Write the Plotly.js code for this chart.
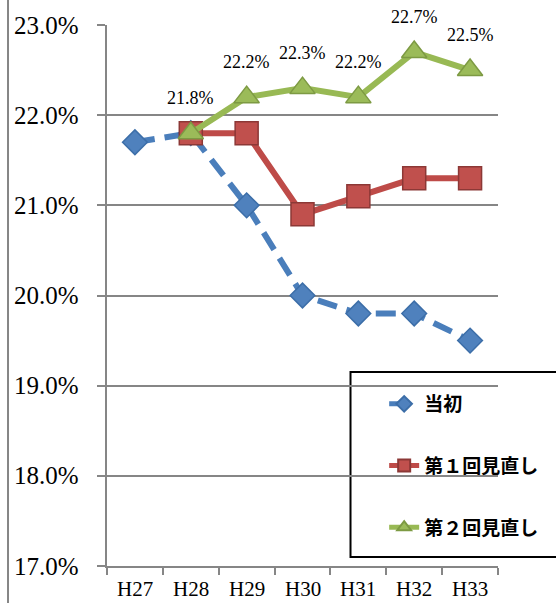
<!DOCTYPE html>
<html>
<head>
<meta charset="utf-8">
<script src="https://cdn.plot.ly/plotly-3.0.1.min.js"></script>
<style>html,body{margin:0;padding:0;background:#fff;}</style>
</head>
<body>
<div id="chart" style="width:556px;height:603px;"></div>
<script>
const categories = ['H27','H28','H29','H30','H31','H32','H33'];
const seriesNames = ['当初','第１回見直し','第２回見直し'];
const initialPlan = [21.7, 21.8, 21.0, 20.0, 19.8, 19.8, 19.5];
const review1 = [null, 21.8, 21.8, 20.9, 21.1, 21.3, 21.3];
const review2 = [null, 21.8, 22.2, 22.3, 22.2, 22.7, 22.5];
const yTicks = [17, 18, 19, 20, 21, 22, 23];
const yTickLabels = yTicks.map(v => v.toFixed(1) + '%');

const L = 107, R = 54, T = 25, B = 37, W = 556, H = 603;
const pw = W - L - R, ph = H - T - B;
const px = x => (x - L) / pw;
const py = y => (H - B - y) / ph;

const serif = 'Liberation Serif';

const traces = [
  {
    x: categories, y: initialPlan, name: seriesNames[0], type: 'scatter', mode: 'lines+markers',
    line: {color: '#4A7EBB', width: 6, dash: '20px,10px'},
    marker: {symbol: 'diamond', size: 19, color: '#4F81BD', line: {color: '#3C6EA8', width: 1.5}},
    legendgroup: 'a'
  },
  {
    x: categories, y: review1, name: seriesNames[1], type: 'scatter', mode: 'lines+markers',
    line: {color: '#BE4B48', width: 6},
    marker: {symbol: 'square', size: 23, color: '#C0504D', line: {color: '#8C3836', width: 1.5}},
    legendgroup: 'b'
  },
  {
    x: categories, y: review2, name: seriesNames[2], type: 'scatter', mode: 'lines+markers',
    line: {color: '#98B954', width: 6},
    marker: {symbol: 'triangle-up', size: 22, color: '#9BBB59', line: {color: '#7D9A43', width: 1.5}},
    legendgroup: 'c'
  }
];

const annotations = [];
// data labels for the second review series
categories.forEach((c, i) => {
  if (review2[i] !== null) {
    annotations.push({
      x: c, y: review2[i], xref: 'x', yref: 'y', text: review2[i].toFixed(1) + '%',
      showarrow: false, yshift: 35, font: {family: serif, size: 18, color: '#000'}
    });
  }
});
// y tick labels (serif) placed at tick values
yTicks.forEach((v, i) => {
  annotations.push({
    x: px(80), y: v, xref: 'paper', yref: 'y', text: yTickLabels[i],
    showarrow: false, xanchor: 'right', yanchor: 'middle', borderpad: 0,
    font: {family: serif, size: 25, color: '#000'}
  });
});
// x tick labels (serif) placed at categories
categories.forEach(c => {
  annotations.push({
    x: c, y: py(602), xref: 'x', yref: 'paper', text: c,
    showarrow: false, xanchor: 'center', yanchor: 'bottom', borderpad: 0,
    font: {family: serif, size: 21, color: '#000'}
  });
});

const layout = {
  width: W, height: H,
  font: {family: serif, color: '#000', size: 18},
  margin: {l: L, r: R, t: T, b: B, pad: 0},
  paper_bgcolor: '#fff', plot_bgcolor: '#fff',
  showlegend: true,
  legend: {
    x: px(387), y: py(385), xanchor: 'left', yanchor: 'top',
    bgcolor: 'rgba(0,0,0,0)', borderwidth: 0,
    font: {family: 'Noto Sans CJK JP', size: 19, color: '#000', weight: 'bold'},
    tracegroupgap: 34, itemsizing: 'constant', traceorder: 'grouped'
  },
  xaxis: {
    type: 'category', range: [-0.5, 6.5], fixedrange: true,
    showgrid: false, showline: true, linecolor: '#868686', linewidth: 2,
    ticks: 'outside', tickson: 'boundaries', ticklen: 7, tickwidth: 2, tickcolor: '#868686',
    showticklabels: false, zeroline: false
  },
  yaxis: {
    range: [17, 23], tickvals: yTicks, fixedrange: true,
    showgrid: true, gridcolor: '#868686', gridwidth: 2,
    showline: true, linecolor: '#868686', linewidth: 2,
    ticks: 'outside', ticklen: 8, tickwidth: 2, tickcolor: '#868686',
    showticklabels: false, zeroline: false
  },
  annotations: annotations,
  shapes: [
    {type: 'line', xref: 'paper', yref: 'paper', x0: px(7), x1: px(7), y0: py(H + 2), y1: py(-2),
     line: {color: '#868686', width: 2}},
    {type: 'rect', xref: 'paper', yref: 'paper', x0: px(353), x1: px(562), y0: py(557), y1: py(372),
     line: {color: '#000', width: 2}, fillcolor: '#fff', layer: 'between'}
  ]
};

Plotly.newPlot('chart', traces, layout, {displayModeBar: false, staticPlot: true});
</script>
</body>
</html>
